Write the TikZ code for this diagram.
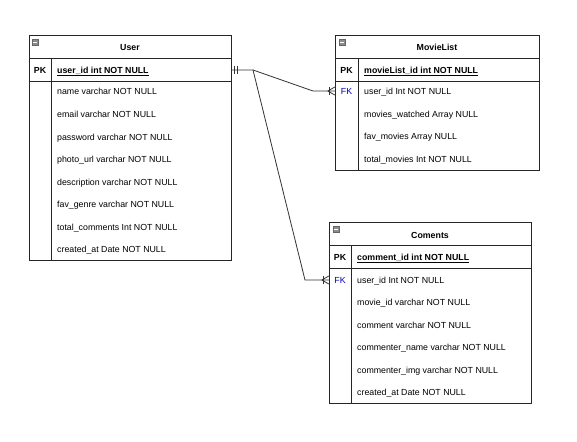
\documentclass[tikz,border=0pt]{standalone}
\usepackage{fontspec}
\setmainfont{Liberation Sans}
\begin{document}
\begin{tikzpicture}[x=1pt,y=-1pt,
  tbl/.style={draw=black!85, line width=0.8pt},
  sep/.style={draw=black!85, line width=0.8pt},
  rowtxt/.style={anchor=west, inner sep=0pt, text height=6.4pt, text depth=0pt, font=\fontsize{8.8}{10}\selectfont},
  keytxt/.style={anchor=center, inner sep=0pt, text height=6.4pt, text depth=0pt, font=\fontsize{8.8}{10}\selectfont},
  pktxt/.style={keytxt, font=\fontsize{8.8}{10}\selectfont\bfseries},
  fktxt/.style={keytxt, text=blue!70!black},
  titletxt/.style={anchor=center, inner sep=0pt, text height=6.4pt, text depth=0pt, font=\fontsize{8.8}{10}\selectfont\bfseries},
  rowbox/.style={inner sep=0pt, minimum height=22pt},
  icon/.style={fill=black!45, draw=black!60, line width=0.4pt},
  conn/.style={draw=black!80, line width=0.8pt},
]
\useasboundingbox (0,0) rectangle (577,441);
\fill[white] (0,0) rectangle (577,441);

% ---------- User ----------
\draw[tbl] (29,35) rectangle (231,260);
\draw[sep] (29,58) -- (231,58);
\draw[sep] (29,81) -- (231,81);
\draw[sep] (51,58) -- (51,260);
\path[icon] (32,39) rectangle (38,45);
\draw[white, line width=0.8pt] (33.3,42) -- (36.7,42);
\node[titletxt] (utitle) at (130,47) {User};
\node[rowbox, minimum width=202pt] (upkrow) at (130,70) {};
\node[pktxt] (upk) at (40,70) {PK};
\node[rowtxt, font=\fontsize{8.8}{10}\selectfont\bfseries] (u0) at (57,70) {\underline{user\_id int NOT NULL}};
\node[rowtxt] (u1) at (57,91) {name varchar NOT NULL};
\node[rowtxt] (u2) at (57,114) {email varchar NOT NULL};
\node[rowtxt] (u3) at (57,137) {password varchar NOT NULL};
\node[rowtxt] (u4) at (57,159) {photo\_url varchar NOT NULL};
\node[rowtxt] (u5) at (57,182) {description varchar NOT NULL};
\node[rowtxt] (u6) at (57,204) {fav\_genre varchar NOT NULL};
\node[rowtxt] (u7) at (57,227) {total\_comments Int NOT NULL};
\node[rowtxt] (u8) at (57,249) {created\_at Date NOT NULL};

% ---------- MovieList ----------
\draw[tbl] (335,35) rectangle (539,170);
\draw[sep] (335,58) -- (539,58);
\draw[sep] (335,81) -- (539,81);
\draw[sep] (358,58) -- (358,170);
\path[icon] (339,39) rectangle (345,45);
\draw[white, line width=0.8pt] (340.3,42) -- (343.7,42);
\node[titletxt] (mtitle) at (437,47) {MovieList};
\node[pktxt] (mpk) at (346.5,70) {PK};
\node[rowtxt, font=\fontsize{8.8}{10}\selectfont\bfseries] (m0) at (364,70) {\underline{movieList\_id int NOT NULL}};
\node[rowbox, minimum width=204pt] (mfkrow) at (437,91) {};
\node[fktxt] (mfk) at (346.5,91) {FK};
\node[rowtxt] (m1) at (364,91) {user\_id Int NOT NULL};
\node[rowtxt] (m2) at (364,114) {movies\_watched Array NULL};
\node[rowtxt] (m3) at (364,136) {fav\_movies Array NULL};
\node[rowtxt] (m4) at (364,159) {total\_movies Int NOT NULL};

% ---------- Coments ----------
\draw[tbl] (329,222) rectangle (531,403);
\draw[sep] (329,245) -- (531,245);
\draw[sep] (329,268) -- (531,268);
\draw[sep] (351,245) -- (351,403);
\path[icon] (333,226) rectangle (339,232);
\draw[white, line width=0.8pt] (334.3,229) -- (337.7,229);
\node[titletxt] (ctitle) at (430,235) {Coments};
\node[pktxt] (cpk) at (340,257) {PK};
\node[rowtxt, font=\fontsize{8.8}{10}\selectfont\bfseries] (c0) at (357,257) {\underline{comment\_id int NOT NULL}};
\node[rowbox, minimum width=202pt] (cfkrow) at (430,280) {};
\node[fktxt] (cfk) at (340,280) {FK};
\node[rowtxt] (c1) at (357,280) {user\_id Int NOT NULL};
\node[rowtxt] (c2) at (357,302) {movie\_id varchar NOT NULL};
\node[rowtxt] (c3) at (357,325) {comment varchar NOT NULL};
\node[rowtxt] (c4) at (357,347) {commenter\_name varchar NOT NULL};
\node[rowtxt] (c5) at (357,370) {commenter\_img varchar NOT NULL};
\node[rowtxt] (c6) at (357,392) {created\_at Date NOT NULL};

% ---------- Connectors ----------
\coordinate (j) at (253,70);
\coordinate (b1) at (313,91);
\coordinate (b2) at (305,280);
\draw[conn] (upkrow.east) -- (j) -- (b1) -- (mfkrow.west);
\draw[conn] (j) -- (b2) -- (cfkrow.west);
% mandatory-one marks at User
\draw[conn] ([xshift=3pt]upkrow.east) ++(0,-4) -- ++(0,8);
\draw[conn] ([xshift=6pt]upkrow.east) ++(0,-4) -- ++(0,8);
% one-or-many marks at MovieList
\draw[conn] ([xshift=-5pt]mfkrow.west) ++(0,-4) -- ++(0,8);
\draw[conn] ([xshift=-7pt]mfkrow.west) -- ([yshift=-4pt]mfkrow.west);
\draw[conn] ([xshift=-7pt]mfkrow.west) -- ([yshift=4pt]mfkrow.west);
% one-or-many marks at Coments
\draw[conn] ([xshift=-5pt]cfkrow.west) ++(0,-4) -- ++(0,8);
\draw[conn] ([xshift=-7pt]cfkrow.west) -- ([yshift=-4pt]cfkrow.west);
\draw[conn] ([xshift=-7pt]cfkrow.west) -- ([yshift=4pt]cfkrow.west);
\end{tikzpicture}
\end{document}
